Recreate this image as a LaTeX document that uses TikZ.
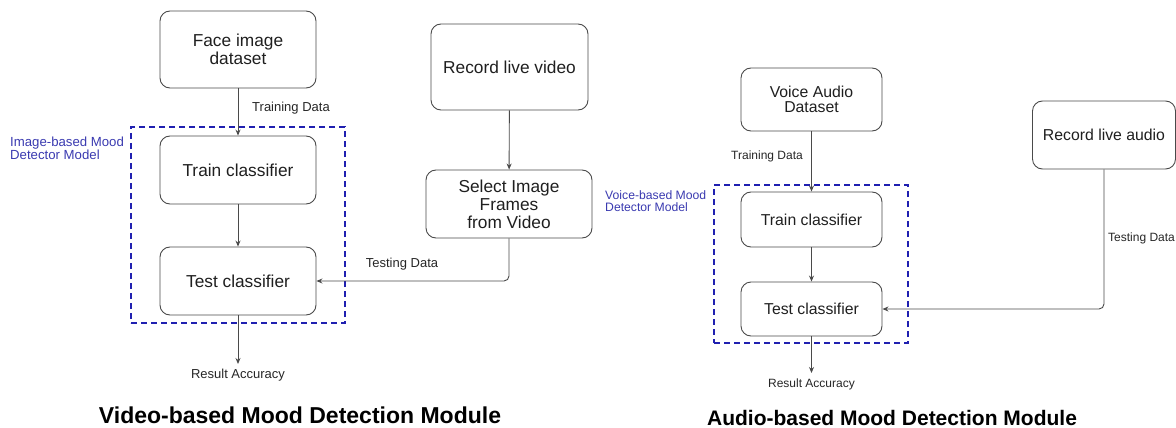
\documentclass[tikz,border=0pt]{standalone}
\usepackage{fontspec}
\setmainfont{Liberation Sans}
\usetikzlibrary{arrows.meta}
\definecolor{boxline}{HTML}{4A4A4A}
\definecolor{modblue}{HTML}{2020B0}
\definecolor{lblblue}{HTML}{3A3AB0}
\begin{document}
\begin{tikzpicture}[x=1pt,y=-1pt,
  box/.style={draw=boxline,line width=0.9pt,rounded corners=10pt,align=center,inner sep=0pt,text=black!88},
  bigtxt/.style={font=\fontsize{17.3}{18}\selectfont},
  smtxt/.style={font=\fontsize{15.8}{14.8}\selectfont},
  lbl/.style={font=\fontsize{13}{14}\selectfont,text=black!85,inner sep=0pt},
  slbl/.style={font=\fontsize{12}{13}\selectfont,text=black!85,inner sep=0pt},
  modlbl/.style={font=\fontsize{13.2}{13}\selectfont,text=lblblue,align=left,inner sep=0pt,anchor=west},
  smodlbl/.style={font=\fontsize{12.2}{11.5}\selectfont,text=lblblue,align=left,inner sep=0pt,anchor=west},
  dashbox/.style={draw=modblue,line width=1.6pt,dash pattern=on 6pt off 4pt,inner sep=0pt},
  conn/.style={draw=boxline,line width=0.9pt,-{Stealth[length=6pt,width=5pt]}},
  ttl/.style={font=\fontsize{23}{26}\selectfont\bfseries,text=black,inner sep=0pt},
  sttl/.style={font=\fontsize{21}{24}\selectfont\bfseries,text=black,inner sep=0pt}]
\useasboundingbox (0,0) rectangle (1176,428);
% ---------- left module ----------
\node[dashbox,minimum width=214pt,minimum height=196pt] (m1) at (238,225) {};
\node[box,bigtxt,minimum width=156pt,minimum height=77pt] (face) at (238,49.5) {Face image\\dataset};
\node[box,bigtxt,minimum width=157pt,minimum height=86pt] (recv) at (509.5,67) {Record live video};
\node[box,bigtxt,minimum width=156pt,minimum height=68pt] (train1) at (238,170) {Train classifier};
\node[box,bigtxt,minimum width=156pt,minimum height=68pt] (test1) at (238,281) {Test classifier};
\node[box,bigtxt,minimum width=166pt,minimum height=68pt] (sel) at (509,204) {Select Image\\Frames\\from Video};
\node[modlbl] (ml1) at (10,148) {Image-based Mood\\Detector Model};
\draw[conn] (face) -- (train1);
\node[lbl] (trd1) at (291,108) {Training Data};
\draw[conn] (train1) -- (test1);
\draw[conn] (recv) -- (sel);
\draw[conn,rounded corners=5pt] (sel.south) |- (test1.east);
\node[lbl] (ted1) at (402,264) {Testing Data};
\coordinate (res1) at (238,364);
\draw[conn] (test1) -- (res1);
\node[lbl] (ra1) at (238,375) {Result Accuracy};
\node[ttl] (t1) at (300,415) {Video-based Mood Detection Module};
% ---------- right module ----------
\node[dashbox,minimum width=194pt,minimum height=158pt] (m2) at (811,264) {};
\node[box,smtxt,minimum width=141pt,minimum height=63pt] (voice) at (811.5,99.5) {Voice Audio\\Dataset};
\node[box,smtxt,minimum width=143pt,minimum height=68pt] (reca) at (1104,135) {Record live audio};
\node[box,smtxt,minimum width=141pt,minimum height=55pt] (train2) at (811.5,219.5) {Train classifier};
\node[box,smtxt,minimum width=141pt,minimum height=54pt] (test2) at (811.5,309) {Test classifier};
\node[smodlbl] (ml2) at (605,201) {Voice-based Mood\\Detector Model};
\draw[conn] (voice) -- (train2);
\node[slbl] (trd2) at (767,156) {Training Data};
\draw[conn] (train2) -- (test2);
\draw[conn,rounded corners=5pt] (reca.south) |- (test2.east);
\node[slbl,anchor=west] (ted2) at (1108,238) {Testing Data};
\coordinate (res2) at (811.5,373);
\draw[conn] (test2) -- (res2);
\node[slbl] (ra2) at (811.5,384) {Result Accuracy};
\node[sttl] (t2) at (892,417.5) {Audio-based Mood Detection Module};
\end{tikzpicture}
\end{document}
